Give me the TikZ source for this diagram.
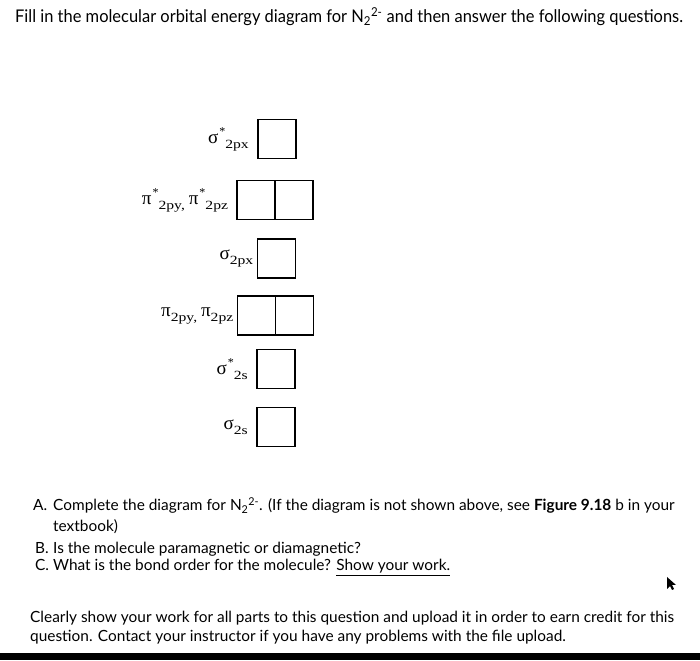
\documentclass[tikz,border=0pt]{standalone}
\usepackage{fontspec}
\setmainfont{Lato}
\newfontfamily\orbfont{Liberation Serif}
\usepackage{tikz}
\usetikzlibrary{positioning}

\newcommand{\osub}[1]{\raisebox{-5pt}{\fontsize{12.5}{12.5}\selectfont\scalebox{1.25}[1]{#1}}}
\newcommand{\ostar}{\raisebox{8pt}{\fontsize{12}{12}\selectfont *}}

\tikzset{
  obox/.style={draw,line width=1.8pt,minimum width=38pt,minimum height=39pt,
    inner sep=0pt,outer sep=0pt},
  olabel/.style={inner sep=0pt,font=\orbfont\fontsize{19}{19}\selectfont},
  qline/.style={anchor=base west,inner sep=0pt,font=\fontsize{15.4}{18}\selectfont},
}

\begin{document}
\begin{tikzpicture}[x=1pt,y=1pt]
  \useasboundingbox (0,0) rectangle (700,660);
  \coordinate (t) at (15,637.3);
  \coordinate (a) at (33,149.3);
  \coordinate (b) at (35,106.7);
  \coordinate (c) at (35,89.3);
  \coordinate (q) at (30,37);

  \node[qline,font=\fontsize{17.5}{20}\selectfont] (title) at (t)
    {\scalebox{0.94}[1]{Fill in the molecular orbital energy diagram for N\textsubscript{2}\textsuperscript{2-} and then answer the following questions.}};

  % orbital boxes
  \node[obox] (sspx) at (277,521) {};
  \node[obox] (ppy) at (256.25,460) {};
  \node[obox,right=0pt of ppy] (ppz) {};
  \node[obox] (spx) at (276.5,401.5) {};
  \node[obox] (bpy) at (256.5,344.5) {};
  \node[obox,right=0pt of bpy] (bpz) {};
  \node[obox] (sss) at (276,291) {};
  \node[obox] (bss) at (276,233) {};

  \node[olabel,left=9pt of sspx] {σ\kern1pt\ostar\osub{2px}};
  \node[olabel,left=9pt of ppy]
    {π\kern1pt\ostar\osub{2py,}\kern4pt π\kern1pt\ostar\osub{2pz}};
  \node[olabel,left=4pt of spx] {σ\osub{2px}};
  \node[olabel,left=4pt of bpy] {π\osub{2py,}\kern4pt π\osub{2pz}};
  \node[olabel,left=9pt of sss] {σ\kern1pt\ostar\osub{2s}};
  \node[olabel,left=9pt of bss] {σ\osub{2s}};

  % questions
  \node[qline] (la) at (a) {A.};
  \node[qline] (ta) at (53,149.3)
    {Complete the diagram for N\textsubscript{2}\textsuperscript{2-}. (If the diagram is not shown above, see \textbf{Figure 9.18} b in your};
  \node[qline] (tb) at (53,128.3) {textbook)};
  \node[qline] (lb) at (b) {B.};
  \node[qline] (qb) at (53,106.7) {Is the molecule paramagnetic or diamagnetic?};
  \node[qline] (lc) at (c) {C.};
  \node[qline] (qc) at (53,89.3) {What is the bond order for the molecule? \underline{Show your work.}};

  \node[qline] (q1) at (q)
    {Clearly show your work for all parts to this question and upload it in order to earn credit for this};
  \node[qline] (q2) at (30,19)
    {question. Contact your instructor if you have any problems with the file upload.};

  % cursor and bottom bar
  \fill (667,83) -- (667,71) -- (670,74) -- (672,70) -- (674,71) -- (672,75) -- (676,75) -- cycle;
  \fill (0,0) rectangle (700,7.3);
\end{tikzpicture}
\end{document}
